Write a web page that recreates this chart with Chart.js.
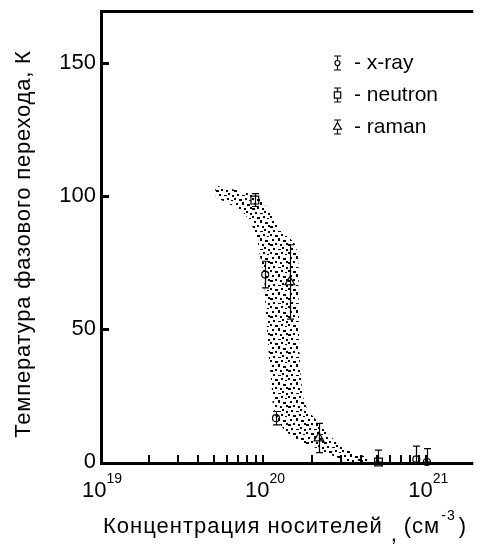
<!DOCTYPE html>
<html>
<head>
<meta charset="utf-8">
<script src="https://cdn.jsdelivr.net/npm/chart.js@4.4.1/dist/chart.umd.min.js"></script>
<style>
html, body { margin: 0; padding: 0; background: #fff; overflow: hidden; }
#wrap { width: 480px; height: 552px; position: relative; }
</style>
</head>
<body>
<div id="wrap"><canvas id="chart" width="480" height="552"></canvas></div>
<script>
const FONT = "'Liberation Sans', Arial, sans-serif";

// shaded band: upper/right edge going down, then back up along the lower/left edge
const bandX = [5.07e19, 6.78e19, 8.96e19, 1.03e20, 1.30e20, 1.60e20, 1.65e20, 1.67e20, 1.72e20, 1.84e20, 2.20e20, 3.08e20, 4.24e20, 4.42e20,
               3.53e20, 2.79e20, 2.11e20, 1.60e20, 1.25e20, 1.15e20, 1.13e20, 1.10e20, 1.06e20, 1.03e20, 1.01e20, 9.6e19, 8.96e19, 7.47e19, 5.14e19];
const bandT = [104, 102.3, 100, 96.6, 87.2, 80.8, 60.9, 42.1, 29.7, 20.7, 14.7, 5.6, 1.9, 0,
               0, 1.9, 5.3, 8.3, 14.7, 21.4, 28.2, 35.7, 48.5, 60.9, 70.3, 77.1, 86.1, 94, 99.6];

// measured points with error bars
const xrayX = [1.03e20, 1.2e20, 8.7e20, 1.01e21];
const xrayT = [70.5, 16.5, 1, 0];
const xrayErrLo = [5, 2.5, 1, 0];
const xrayErrHi = [5, 2.5, 5, 5];

const neutronX = [8.9e19, 5.1e20];
const neutronT = [98.5, 0];
const neutronErrLo = [2.4, 0];
const neutronErrHi = [2.4, 4.5];

const ramanX = [1.46e20, 2.2e20];
const ramanT = [67.7, 9];
const ramanErrLo = [14, 5.5];
const ramanErrHi = [14, 5.5];

const legendLabels = ['- x-ray', '- neutron', '- raman'];

// axes
const yTicks = [0, 50, 100, 150];
const xDecades = [19, 20, 21];
const xMantissas = [1, 2, 3, 4, 5, 6, 7, 8, 9];
const xLabelExp = ['19', '20', '21'];
const xMin = 1e19, xMax = 1.945e21, yMin = 0, yMax = 170;

const xTitle = 'Концентрация носителей';
const yTitle = 'Температура фазового перехода, К';

const pts = (xs, ys) => xs.map((x, i) => ({ x: x, y: ys[i] }));

// stipple pattern for the band
const tile = document.createElement('canvas');
tile.width = 18; tile.height = 18;
const tc = tile.getContext('2d');
tc.fillStyle = '#000';
[[0,0,2,2],[5,1,3,2],[11,0,2,2],[15,2,2,1],
 [2,5,2,2],[8,4,2,3],[13,6,3,2],
 [0,10,3,2],[5,9,2,2],[10,10,2,2],[16,9,2,2],
 [3,14,2,2],[8,15,3,1],[12,13,2,2],[16,15,2,2]]
  .forEach(d => tc.fillRect(d[0], d[1], d[2], d[3]));
const stipple = tc.createPattern(tile, 'repeat');

const series = [
  { x: xrayX, t: xrayT, lo: xrayErrLo, hi: xrayErrHi, style: 'circle', r: 3.5 },
  { x: neutronX, t: neutronT, lo: neutronErrLo, hi: neutronErrHi, style: 'rect', r: 5.5 },
  { x: ramanX, t: ramanT, lo: ramanErrLo, hi: ramanErrHi, style: 'triangle', r: 5.5 }
];

const drawBar = (ctx, px, yTop, yBot, cap) => {
  ctx.beginPath();
  ctx.moveTo(px, yTop); ctx.lineTo(px, yBot);
  ctx.moveTo(px - cap, yTop); ctx.lineTo(px + cap, yTop);
  ctx.moveTo(px - cap, yBot); ctx.lineTo(px + cap, yBot);
  ctx.stroke();
};

const deco = {
  id: 'deco',
  afterDatasetDraw(chart, args) {
    if (args.index !== 0) return;
    // error bars, drawn above the band and under the markers
    const ctx = chart.ctx, xs = chart.scales.x, ys = chart.scales.y;
    ctx.save();
    ctx.strokeStyle = '#000';
    ctx.lineWidth = 1.2;
    series.forEach(s => {
      s.x.forEach((v, i) => {
        const px = Math.round(xs.getPixelForValue(v)) + 0.5;
        const top = ys.getPixelForValue(s.t[i] + s.hi[i]);
        const bot = ys.getPixelForValue(s.t[i] - s.lo[i]);
        drawBar(ctx, px, top, bot, 3.5);
      });
    });
    ctx.restore();
  },
  afterDraw(chart) {
    const ctx = chart.ctx, a = chart.chartArea, xs = chart.scales.x, ys = chart.scales.y;
    ctx.save();
    ctx.strokeStyle = '#000';
    ctx.fillStyle = '#000';

    // frame: left, bottom and top lines
    ctx.lineWidth = 3;
    ctx.beginPath();
    ctx.moveTo(a.left + 1.5, a.top);
    ctx.lineTo(a.left + 1.5, a.bottom + 3);
    ctx.moveTo(a.left, a.bottom + 1.5);
    ctx.lineTo(a.right, a.bottom + 1.5);
    ctx.moveTo(a.left, a.top + 1.5);
    ctx.lineTo(a.right, a.top + 1.5);
    ctx.stroke();

    // inward ticks on y
    ys.ticks.forEach(t => {
      if (t.value === 0) return;
      const py = Math.round(ys.getPixelForValue(t.value));
      ctx.fillRect(a.left, py - 1, 9, 3);
    });
    // inward ticks on x
    xDecades.forEach(d => {
      xMantissas.forEach(m => {
        const v = m * Math.pow(10, d);
        if (v <= xMin || v > xMax) return;
        const px = Math.round(xs.getPixelForValue(v));
        ctx.fillRect(px - 1, a.bottom - 7, 2, 8);
      });
    });

    // x tick labels 10^n
    xDecades.forEach((d, i) => {
      const px = xs.getPixelForValue(Math.pow(10, d));
      ctx.font = '22px ' + FONT;
      const wb = ctx.measureText('10').width;
      ctx.font = '14px ' + FONT;
      const we = ctx.measureText(xLabelExp[i]).width;
      const x0 = px - (wb + we) / 2 + 2;
      ctx.textAlign = 'left';
      ctx.textBaseline = 'alphabetic';
      ctx.font = '22px ' + FONT;
      ctx.fillText('10', x0, a.bottom + 35);
      ctx.font = '14px ' + FONT;
      ctx.fillText(xLabelExp[i], x0 + wb, a.bottom + 21);
    });

    // x title with superscript unit
    ctx.letterSpacing = '1px';
    let cx = a.left + 3;
    const by = 533;
    ctx.font = '22px ' + FONT;
    ctx.fillText(xTitle, cx, by);
    cx += ctx.measureText(xTitle).width + 8;
    ctx.fillText(',', cx, by + 8);
    cx += 13;
    ctx.fillText('(см', cx, by);
    cx += ctx.measureText('(см').width;
    ctx.font = '14px ' + FONT;
    ctx.fillText('-3', cx + 1, by - 13);
    cx += ctx.measureText('-3').width + 4;
    ctx.font = '22px ' + FONT;
    ctx.fillText(')', cx, by);

    // y title
    ctx.save();
    ctx.letterSpacing = '0.8px';
    ctx.translate(24, 244);
    ctx.rotate(-Math.PI / 2);
    ctx.textAlign = 'center';
    ctx.textBaseline = 'middle';
    ctx.font = '22px ' + FONT;
    ctx.fillText(yTitle, 0, 0);
    ctx.restore();
    ctx.letterSpacing = '0px';

    // legend
    const lx = 337, ly = [63, 95, 127];
    ctx.lineWidth = 1.2;
    series.forEach((s, i) => {
      drawBar(ctx, lx + 0.5, ly[i] - 7, ly[i] + 7, 3.5);
      ctx.fillStyle = '#fff';
      ctx.strokeStyle = '#000';
      ctx.lineWidth = 1.2;
      Chart.helpers.drawPoint(ctx, { pointStyle: s.style, radius: s.r - 1, rotation: 0, borderWidth: 1.2 }, lx + 0.5, ly[i]);
      ctx.fillStyle = '#000';
      ctx.font = '21px ' + FONT;
      ctx.textAlign = 'left';
      ctx.textBaseline = 'middle';
      ctx.fillText(legendLabels[i], 354, ly[i]);
    });
    ctx.restore();
  }
};

const pointSet = (s) => ({
  data: pts(s.x, s.t),
  pointStyle: s.style,
  pointRadius: s.r,
  backgroundColor: '#fff',
  borderColor: '#000',
  borderWidth: 1.2,
  clip: false
});

new Chart(document.getElementById('chart'), {
  type: 'scatter',
  data: {
    datasets: [
      {
        type: 'line',
        data: pts(bandX, bandT),
        borderWidth: 0,
        borderColor: 'rgba(0,0,0,0)',
        pointRadius: 0,
        tension: 0.3,
        fill: 'shape',
        backgroundColor: stipple
      },
      pointSet(series[0]),
      pointSet(series[1]),
      pointSet(series[2])
    ]
  },
  options: {
    responsive: false,
    animation: false,
    layout: { padding: { top: 10, right: 0, left: 0, bottom: 0 } },
    plugins: { legend: { display: false }, tooltip: { enabled: false } },
    scales: {
      x: {
        type: 'logarithmic',
        min: xMin, max: xMax,
        grid: { display: false },
        border: { display: false },
        ticks: { display: false },
        afterFit: s => { s.height = 90; }
      },
      y: {
        min: yMin, max: yMax,
        grid: { display: false, drawTicks: false },
        border: { display: false },
        ticks: { color: '#000', padding: 4, font: { family: FONT, size: 22 } },
        afterBuildTicks: s => { s.ticks = yTicks.map(v => ({ value: v })); },
        afterFit: s => { s.width = 100; s.paddingTop = 0; s.paddingBottom = 0; }
      }
    }
  },
  plugins: [deco]
});
</script>
</body>
</html>
